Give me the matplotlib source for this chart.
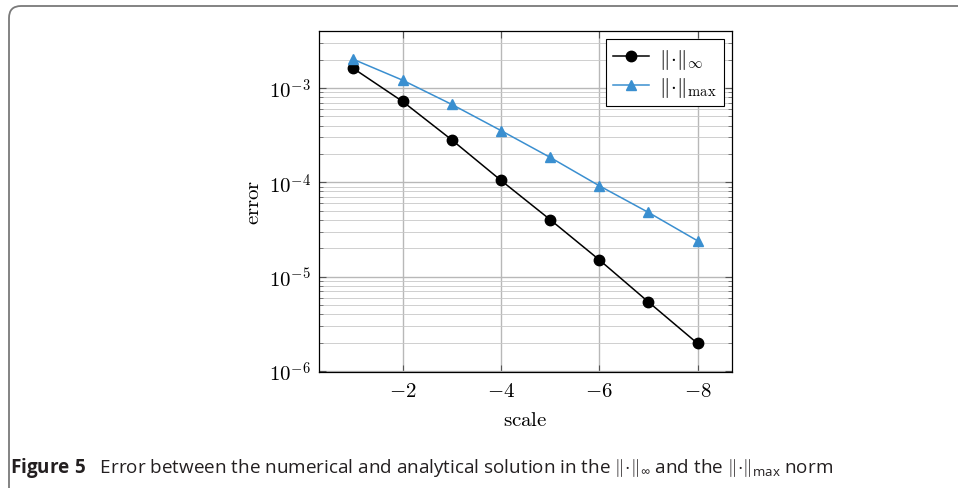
import matplotlib
matplotlib.use("Agg")
import matplotlib.pyplot as plt
from matplotlib.patches import FancyBboxPatch
from matplotlib.ticker import FixedLocator, FixedFormatter, LogLocator, NullFormatter

plt.rcParams['mathtext.fontset'] = 'cm'
plt.rcParams['mathtext.rm'] = 'Open Sans'
plt.rcParams['mathtext.it'] = 'Open Sans:italic'
plt.rcParams['mathtext.bf'] = 'Open Sans:bold'

# data
scale = [-1, -2, -3, -4, -5, -6, -7, -8]
err_inf = [1.61e-3, 7.2e-4, 2.82e-4, 1.05e-4, 4.03e-5, 1.51e-5, 5.4e-6, 1.96e-6]
err_max = [2.01e-3, 1.21e-3, 6.7e-4, 3.54e-4, 1.84e-4, 9.2e-5, 4.8e-5, 2.4e-5]
xticks = [-2, -4, -6, -8]
xticklabels = [r'$-2$', r'$-4$', r'$-6$', r'$-8$']
yticks = [1e-6, 1e-5, 1e-4, 1e-3]
yticklabels = [r'$10^{-6}$', r'$10^{-5}$', r'$10^{-4}$', r'$10^{-3}$']

W, H = 958, 489
fig = plt.figure(figsize=(W / 100, H / 100), dpi=100)

# rounded frame
frame = FancyBboxPatch((0.09, -1.0), 12.0, 4.82 + 1.0,
                       boxstyle="round,pad=0,rounding_size=0.12",
                       transform=fig.dpi_scale_trans, fill=False,
                       edgecolor='#7a7a7a', linewidth=1.3, clip_on=False)
fig.patches.append(frame)

ax = fig.add_axes([319 / W, 1 - 373 / H, (732 - 319) / W, (373 - 32) / H])
blue = '#3a8fd0'
ax.plot(scale, err_inf, color='black', lw=1.1, marker='o', ms=7.5,
        label=r'$\|\!\cdot\!\|_{\infty}$', zorder=3)
ax.plot(scale, err_max, color=blue, lw=1.1, marker='^', ms=7,
        label=r'$\|\!\cdot\!\|_{\max}$', zorder=3)

ax.set_yscale('log')
ax.set_xlim(-0.3, -8.7)
ax.set_ylim(10 ** -6.01, 10 ** -2.396)

ax.xaxis.set_major_locator(FixedLocator(xticks))
ax.xaxis.set_major_formatter(FixedFormatter(xticklabels))
ax.yaxis.set_major_locator(FixedLocator(yticks))
ax.yaxis.set_major_formatter(FixedFormatter(yticklabels))
ax.yaxis.set_minor_locator(LogLocator(base=10, subs=range(2, 10)))
ax.yaxis.set_minor_formatter(NullFormatter())

ax.grid(True, which='major', color='#b8b8b8', lw=1.0)
ax.grid(True, which='minor', axis='y', color='#c8c8c8', lw=0.6)
ax.set_axisbelow(True)

ax.tick_params(which='both', direction='in', top=True, right=True,
               labelsize=15, color='#555555')
ax.tick_params(axis='y', which='major', pad=6)
ax.tick_params(axis='x', which='major', pad=6)
ax.tick_params(which='major', length=5, width=0.8)
ax.tick_params(which='minor', length=3, width=0.5)
for s in ax.spines.values():
    s.set_linewidth(0.9)

ax.set_xlabel(r'$\mathrm{scale}$', fontsize=15, labelpad=6)
ax.set_ylabel(r'$\mathrm{error}$', fontsize=15, labelpad=4)

leg = ax.legend(loc='upper right', fontsize=15, frameon=True, fancybox=False,
                edgecolor='black', framealpha=1, borderaxespad=0.4,
                handlelength=1.75, handletextpad=0.45, labelspacing=0.2,
                borderpad=0.35)
leg.get_frame().set_linewidth(0.8)

fig.text(10 / W, 1 - 473 / H,
         r'$\mathbf{Figure\ 5}$   Error between the numerical and analytical solution in the '
         r'$\|\!\cdot\!\|_{\infty}$ and the $\|\!\cdot\!\|_{\mathrm{max}}$ norm',
         family='Open Sans', fontsize=13.6, color='#231f20', va='baseline', ha='left',
         math_fontfamily='custom')

fig.savefig('out.png', dpi=100)
